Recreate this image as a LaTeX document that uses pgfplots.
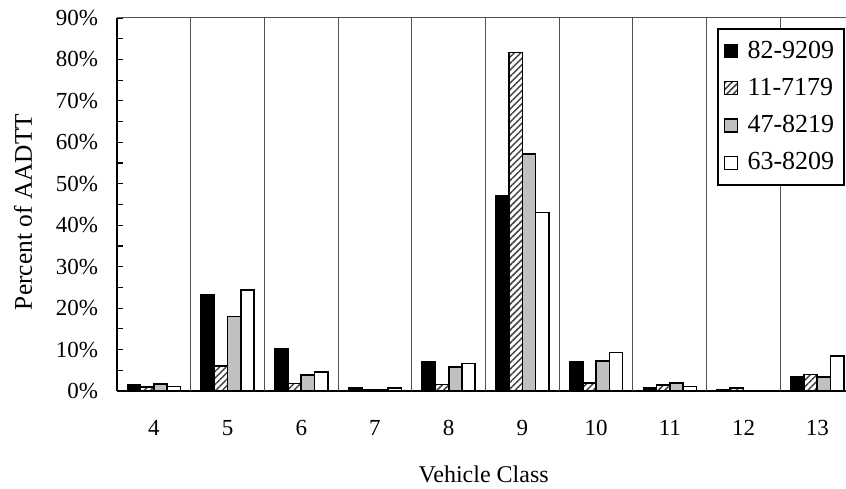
\documentclass[border=0pt]{standalone}
\usepackage{fontspec}
\setmainfont{Liberation Serif}
\usepackage{pgfplots}
\pgfplotsset{compat=1.18}
\usetikzlibrary{patterns.meta}
\definecolor{barfill}{HTML}{C0C0C0}
\definecolor{sepgray}{HTML}{505050}

\begin{document}
\begin{tikzpicture}
\begin{axis}[
    scale only axis,
    width=364.5pt, height=186.5pt,
    ybar=0pt,
    bar width=0.18,
    xmin=3.5, xmax=13.39,
    ymin=0, ymax=90,
    axis lines*=left,
    axis line style={-, line width=0.8pt, black},
    font=\fontsize{11.5}{13}\selectfont,
    /pgf/number format/assume math mode=true,
    xtick={4,5,6,7,8,9,10,11,12,13},
    major x tick style={draw=none},
    xticklabel style={yshift=-11pt},
    ytick={0,10,...,90},
    minor y tick num=1,
    yticklabel={\pgfmathprintnumber{\tick}\%},
    yticklabel style={xshift=-6pt},
    tick align=inside,
    major tick length=3pt, minor tick length=3pt,
    y tick style={line width=0.6pt, black},
    extra x ticks={4.5,5.5,6.5,7.5,8.5,9.5,10.5,11.5,12.5},
    extra x tick labels={},
    extra x tick style={grid=major, major grid style={sepgray, line width=0.5pt}, major tick length=0pt},
    extra y ticks={90},
    extra y tick labels={},
    extra y tick style={grid=major, major grid style={sepgray, line width=0.5pt}, major tick length=0pt},
    xlabel={Vehicle Class},
    xlabel style={at={(rel axis cs:0.503,0)}, anchor=north, yshift=-34pt, font=\fontsize{12}{14}\selectfont},
    ylabel={Percent of AADTT},
    ylabel style={at={(rel axis cs:-0.129,0.48)}, anchor=center, font=\fontsize{12.7}{15}\selectfont},
    legend image code/.code={\draw[#1, line width=0.7pt] (0pt,-3.25pt) rectangle (6.5pt,3.25pt);
        \node[inner sep=0pt, minimum size=0pt] at (9pt,0pt) {};},
    legend style={at={(0.9986,0.973)}, anchor=north east, draw=black, line width=0.8pt,
        fill=white, font=\fontsize{13}{15}\selectfont, row sep=4.5pt,
        inner xsep=3pt, inner ysep=4pt, cells={anchor=west}},
]
\addplot[draw=black, fill=black, line width=0.8pt] coordinates {
    (4,1.4) (5,23.3) (6,10.1) (7,0.8) (8,7.0) (9,47.0) (10,7.0) (11,0.8) (12,0.4) (13,3.5)};
\addplot[draw=black, line width=0.8pt,
    pattern={Lines[angle=45, distance=2.3pt, line width=0.75pt]}, pattern color=black!75]
    coordinates {
    (4,1.0) (5,6.1) (6,1.8) (7,0.4) (8,1.6) (9,81.7) (10,1.9) (11,1.5) (12,0.7) (13,4.0)};
\addplot[draw=black, fill=barfill, line width=0.8pt] coordinates {
    (4,1.7) (5,18.0) (6,3.9) (7,0.4) (8,5.8) (9,57.2) (10,7.3) (11,2.0) (12,0) (13,3.4)};
\addplot[draw=black, fill=white, line width=0.8pt] coordinates {
    (4,1.1) (5,24.3) (6,4.6) (7,0.7) (8,6.6) (9,43.1) (10,9.3) (11,1.1) (12,0) (13,8.5)};
\legend{82-9209, 11-7179, 47-8219, 63-8209}
\end{axis}
\pgfresetboundingbox
\useasboundingbox ([xshift=-58.5pt, yshift=-49pt]current axis.south west)
    rectangle ([yshift=9pt]current axis.north east);
\end{tikzpicture}
\end{document}
